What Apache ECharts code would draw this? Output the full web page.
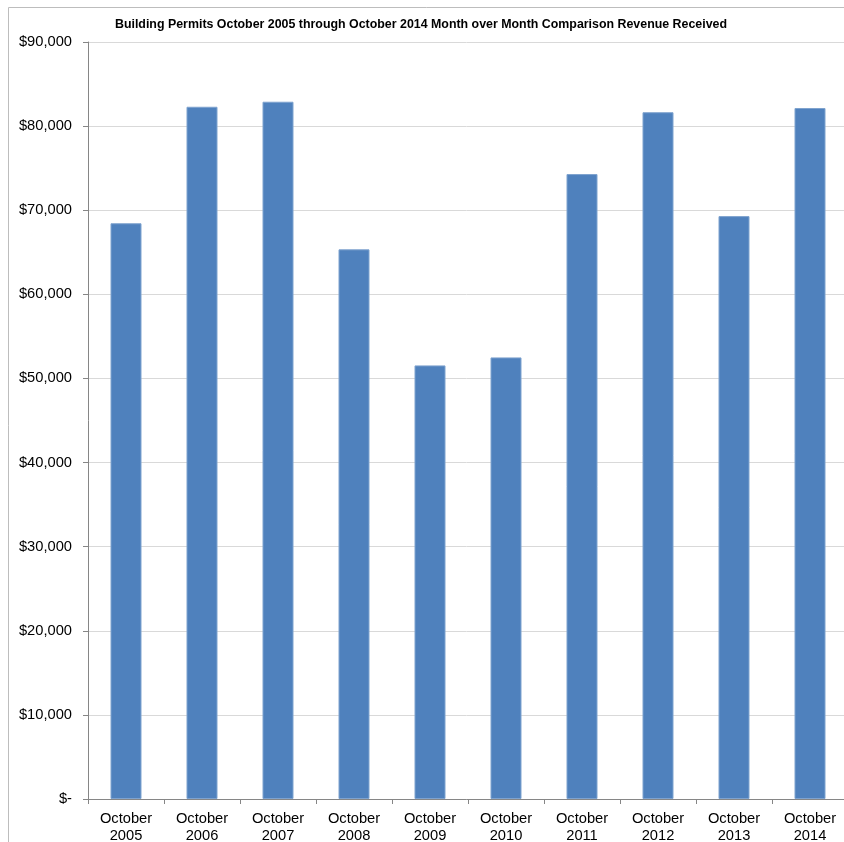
<!DOCTYPE html>
<html>
<head>
<meta charset="utf-8">
<script src="https://cdn.jsdelivr.net/npm/echarts@6/dist/echarts.min.js"></script>
<style>
  html, body { margin: 0; padding: 0; background: #fff; }
  #chart { width: 844px; height: 842px; }
</style>
</head>
<body>
<div id="chart"></div>
<script>
// Monthly building-permit revenue for October of each year
const categories = ['October\n2005', 'October\n2006', 'October\n2007', 'October\n2008', 'October\n2009',
                    'October\n2010', 'October\n2011', 'October\n2012', 'October\n2013', 'October\n2014'];
const revenue = [68450, 82300, 82900, 65350, 51550, 52500, 74300, 81650, 69300, 82150];
const titleText = 'Building Permits October 2005 through October 2014 Month over Month Comparison Revenue Received';

const fontFamily = '"Liberation Sans", Arial, sans-serif';

function currency(v) {
  if (v === 0) return '$-';
  return '$' + v.toLocaleString('en-US');
}

const chart = echarts.init(document.getElementById('chart'));
chart.setOption({
  animation: false,
  title: {
    text: titleText,
    left: 416,
    textAlign: 'center',
    top: 14,
    textStyle: { fontFamily, fontSize: 12.4, fontWeight: 'bold', color: '#000' }
  },
  graphic: [{
    type: 'rect',
    shape: { x: 8.5, y: 7.5, width: 900, height: 900 },
    style: { fill: 'none', stroke: '#bdbdbd', lineWidth: 1 },
    silent: true
  }],
  // the plot runs a few pixels past the right edge of the page
  grid: { left: 88, top: 42, width: 760, bottom: 43, containLabel: false, outerBoundsMode: 'none' },
  xAxis: {
    type: 'category',
    data: categories,
    axisLine: { lineStyle: { color: '#868686', width: 1 } },
    axisTick: { show: true, alignWithLabel: false, length: 5, lineStyle: { color: '#868686' } },
    axisLabel: { fontFamily, fontSize: 14.7, color: '#000', lineHeight: 17, margin: 11, interval: 0 }
  },
  yAxis: {
    type: 'value',
    min: 0,
    max: 90000,
    interval: 10000,
    axisLine: { show: true, lineStyle: { color: '#868686', width: 1 } },
    axisTick: { show: true, length: 5, lineStyle: { color: '#868686' } },
    axisLabel: { fontFamily, fontSize: 14.7, color: '#000', margin: 16, formatter: currency },
    splitLine: { lineStyle: { color: '#d9d9d9', width: 1 } }
  },
  series: [{
    type: 'bar',
    data: revenue,
    barWidth: 31,
    itemStyle: { color: '#4f81bd', borderColor: '#7fa3cf', borderWidth: 1 }
  }]
});
</script>
</body>
</html>
